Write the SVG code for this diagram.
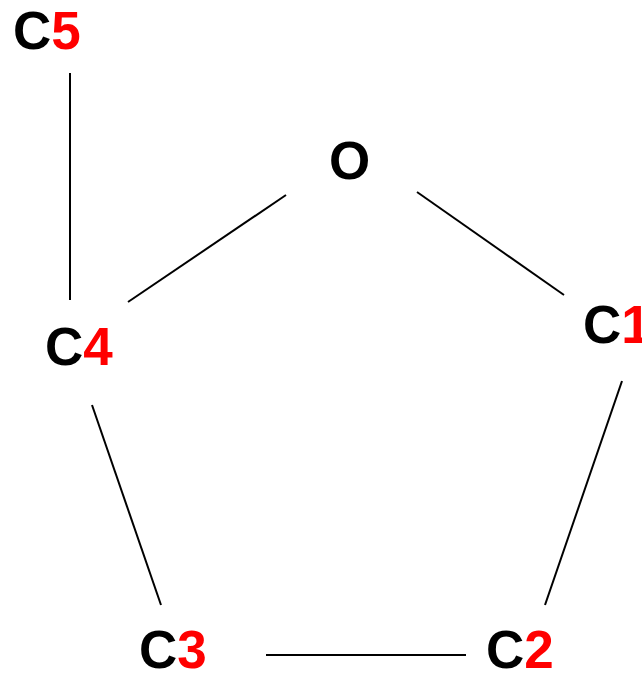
<svg xmlns="http://www.w3.org/2000/svg" width="642" height="673" viewBox="0 0 642 673">
<style>
text{font-family:"Liberation Sans",Arial,sans-serif;font-weight:700;font-size:53px;fill:#000}
.n{fill:#f00}
#connectors line{stroke:#000;stroke-width:2;fill:none}
</style>
<rect width="642" height="673" fill="#fff"/>
<g id="connectors">
<line x1="70" y1="73" x2="70" y2="300"/>
<line x1="128" y1="302" x2="286" y2="195"/>
<line x1="417" y1="192" x2="564" y2="295"/>
<line x1="622" y1="381" x2="545" y2="605"/>
<line x1="466" y1="655" x2="266" y2="655"/>
<line x1="161" y1="605" x2="92" y2="405"/>
</g>
<g id="C5"><text x="13" y="49">C<tspan class="n">5</tspan></text></g>
<g id="O"><text x="329" y="179">O</text></g>
<g id="C4"><text x="45" y="365">C<tspan class="n">4</tspan></text></g>
<g id="C1"><text x="583" y="343">C<tspan class="n">1</tspan></text></g>
<g id="C3"><text x="139" y="668">C<tspan class="n">3</tspan></text></g>
<g id="C2"><text x="486" y="668">C<tspan class="n">2</tspan></text></g>
</svg>
